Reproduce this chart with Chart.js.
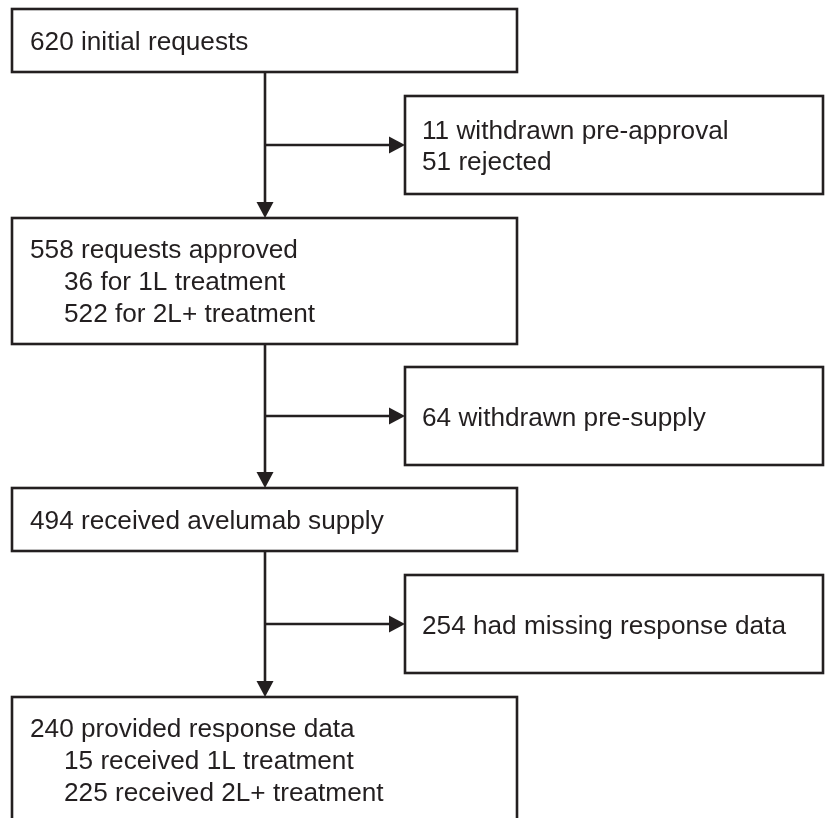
<!DOCTYPE html>
<html>
<head>
<meta charset="utf-8">
<script src="https://cdn.jsdelivr.net/npm/chart.js@4.4.1/dist/chart.umd.min.js"></script>
<style>
  html, body { margin: 0; padding: 0; background: #fff; }
  #wrap { width: 825px; height: 818px; position: relative; }
</style>
</head>
<body>
<div id="wrap"><canvas id="flowChart"></canvas></div>
<script>
// Stage counts down the main column
const stageCounts = [620, 558, 494, 240];
const stageLabels = ['initial requests', 'requests approved', 'received avelumab supply', 'provided response data'];
const subCounts = [[], [36, 522], [], [15, 225]];
const subLabels = [[], ['for 1L treatment', 'for 2L+ treatment'], [], ['received 1L treatment', 'received 2L+ treatment']];

// Exits to the side boxes
const exitCounts = [[11, 51], [64], [254]];
const exitLabels = [['withdrawn pre-approval', 'rejected'], ['withdrawn pre-supply'], ['had missing response data']];

// layout (in chart units, same as pixels here)
const mainX = [12, 517];
const mainY = [[9, 72], [218, 344], [488, 551], [697, 840]];
const sideX = [405, 823];
const sideY = [[96, 194], [367, 465], [575, 673]];
const spineX = 265;
const lineH = 32;

const ink = '#231f20';
const font = '26.2px "Liberation Sans", Arial, sans-serif';

const flowPlugin = {
    id: 'flow',
    afterDraw(chart) {
        const c = chart.ctx;
        const sx = chart.scales.x, sy = chart.scales.y;
        const px = v => sx.getPixelForValue(v);
        const py = v => sy.getPixelForValue(v);

        c.save();
        c.strokeStyle = ink;
        c.fillStyle = ink;
        c.lineWidth = 2.6;

        function box(x0, x1, y0, y1) {
            c.strokeRect(px(x0), py(y0), px(x1) - px(x0), py(y1) - py(y0));
        }
        function line(x0, y0, x1, y1) {
            c.beginPath();
            c.moveTo(px(x0), py(y0));
            c.lineTo(px(x1), py(y1));
            c.stroke();
        }
        function head(x, y, dir) {
            const L = 16, W = 8.5;
            c.beginPath();
            if (dir === 'down') {
                c.moveTo(px(x), py(y));
                c.lineTo(px(x) - W, py(y) - L);
                c.lineTo(px(x) + W, py(y) - L);
            } else {
                c.moveTo(px(x), py(y));
                c.lineTo(px(x) - L, py(y) - W);
                c.lineTo(px(x) - L, py(y) + W);
            }
            c.closePath();
            c.fill();
        }

        // main boxes
        stageCounts.forEach((n, i) => {
            const [y0, y1] = mainY[i];
            box(mainX[0], mainX[1], y0, y1);
        });
        // side boxes
        exitCounts.forEach((arr, i) => {
            const [y0, y1] = sideY[i];
            box(sideX[0], sideX[1], y0, y1);
        });

        // connectors
        for (let i = 0; i < stageCounts.length - 1; i++) {
            const top = mainY[i][1];
            const bot = mainY[i + 1][0];
            line(spineX, top, spineX, bot - 12);
            head(spineX, bot, 'down');
            const by = (sideY[i][0] + sideY[i][1]) / 2;
            line(spineX, by, sideX[0] - 12, by);
            head(sideX[0], by, 'right');
        }

        // text
        c.font = font;
        c.textBaseline = 'middle';
        c.textAlign = 'left';
        stageCounts.forEach((n, i) => {
            const y0 = mainY[i][0];
            const subs = subCounts[i];
            const first = subs.length ? y0 + 33 : (mainY[i][0] + mainY[i][1]) / 2 + 2.5;
            c.fillText(n + ' ' + stageLabels[i], px(30), py(first));
            subs.forEach((m, j) => {
                c.fillText(m + ' ' + subLabels[i][j], px(64), py(first + lineH * (j + 1)));
            });
        });
        exitCounts.forEach((arr, i) => {
            const mid = (sideY[i][0] + sideY[i][1]) / 2 + 2.5;
            const start = mid - (arr.length - 1) * 31 / 2;
            arr.forEach((m, j) => {
                c.fillText(m + ' ' + exitLabels[i][j], px(422), py(start + 31 * j));
            });
        });
        c.restore();
    }
};

new Chart(document.getElementById('flowChart'), {
    type: 'scatter',
    data: { datasets: [{ data: [], pointRadius: 0 }] },
    options: {
        responsive: true,
        maintainAspectRatio: false,
        animation: false,
        layout: { padding: 0 },
        plugins: { legend: { display: false }, tooltip: { enabled: false } },
        scales: {
            x: { type: 'linear', min: 0, max: 825, display: false },
            y: { type: 'linear', min: 0, max: 818, reverse: true, display: false }
        }
    },
    plugins: [flowPlugin]
});
</script>
</body>
</html>
